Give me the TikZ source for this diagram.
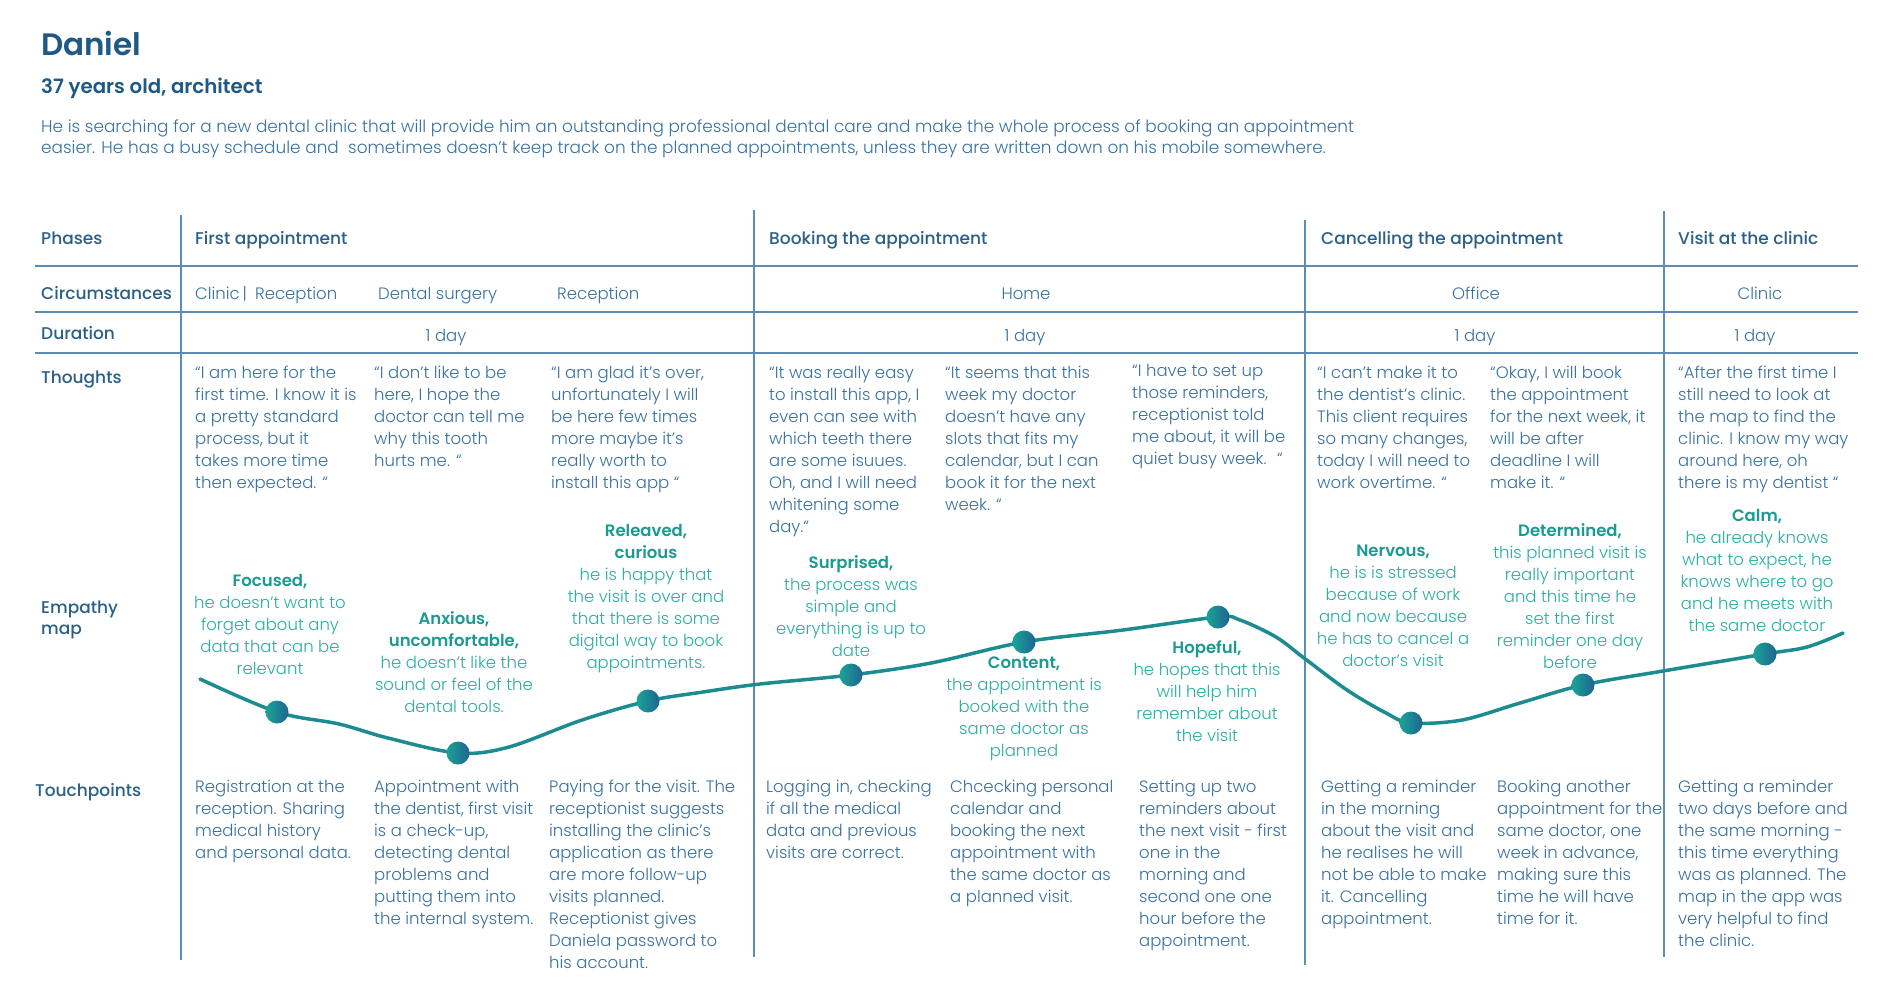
\documentclass[tikz,border=0pt]{standalone}
\usepackage{fontspec}
\setmainfont{Poppins}
\newfontfamily\plight{Poppins Light}
\newfontfamily\pmed{Poppins Medium}
\newfontfamily\psemi{Poppins SemiBold}
\definecolor{navy}{HTML}{1E5A84}
\definecolor{labelc}{HTML}{2A5F86}
\definecolor{bodyc}{HTML}{3872A0}
\definecolor{gridc}{HTML}{5A8CB5}
\definecolor{emotitle}{HTML}{1A9A90}
\definecolor{emobody}{HTML}{2AB0A3}
\definecolor{curvec}{HTML}{1C8C90}
\definecolor{dotl}{HTML}{1AA398}
\definecolor{dotr}{HTML}{1F6590}
% every text block is placed by the baseline of its first line:
% the node's top sits 14pt above that baseline and a strut fixes the first line height
\tikzset{
  firstline/.style={inner sep=0pt, yshift=14pt,
    execute at begin node={\rule{0pt}{14pt}}},
  rowlabel/.style={firstline, anchor=north west, align=left, text=labelc,
    font=\pmed\fontsize{17}{21}\selectfont},
  phase/.style={firstline, anchor=north west, text=labelc,
    font=\pmed\fontsize{17}{21}\selectfont},
  cell/.style={firstline, anchor=north, text=bodyc,
    font=\plight\fontsize{16.5}{22}\selectfont},
  celltext/.style={firstline, anchor=north west, align=left, text=bodyc,
    font=\plight\fontsize{16.5}{22}\selectfont},
  emo/.style={firstline, anchor=north, align=center, text=emobody,
    font=\plight\fontsize{16.5}{22}\selectfont},
  gridline/.style={draw=gridc, line width=1.3pt},
  mood/.style={circle, minimum size=23pt, inner sep=0pt, left color=dotl, right color=dotr, draw=none},
}
\newcommand{\emt}[1]{{\psemi\color{emotitle}#1}}
\begin{document}
\begin{tikzpicture}[x=1pt,y=-1pt]
\useasboundingbox[fill=white] (0,0) rectangle (1892,997);

% persona header
\node[anchor=base west, inner sep=0pt, text=navy, font=\psemi\fontsize{31}{36}\selectfont] (name) at (41,55) {Daniel};
\node[anchor=base west, inner sep=0pt, text=navy, font=\psemi\fontsize{19.8}{23}\selectfont] (role) at (41,93) {37 years old, architect};
\node[firstline, anchor=north west, align=left, text=bodyc, font=\plight\fontsize{16.9}{21.5}\selectfont] (about) at (41,133)
  {He is searching for a new dental clinic that will provide him an outstanding professional dental care and make the whole process of booking an appointment\\
   easier. He has a busy schedule and \ sometimes doesn’t keep track on the planned appointments, unless they are written down on his mobile somewhere.};

% table grid
\draw[gridline] (35,266) -- (1858,266);
\draw[gridline] (35,312) -- (1858,312);
\draw[gridline] (35,353) -- (1858,353);
\draw[gridline] (181,215) -- (181,960);
\draw[gridline] (754,210) -- (754,957);
\draw[gridline] (1305,220) -- (1305,965);
\draw[gridline] (1664,211) -- (1664,957);

% row labels
\node[rowlabel] (lphases) at (41,244) {Phases};
\node[rowlabel] (lcirc) at (41,299) {Circumstances};
\node[rowlabel] (ldur) at (41,339) {Duration};
\node[rowlabel] (lthought) at (41,383) {Thoughts};
\node[rowlabel] (lempathy) at (41,615) {Empathy\\map};
\node[rowlabel] (ltouch) at (35,796) {Touchpoints};

% phases
\node[phase] (p1) at (195,244) {First appointment};
\node[phase] (p2) at (769,244) {Booking the appointment};
\node[phase] (p3) at (1321,244) {Cancelling the appointment};
\node[phase] (p4) at (1678,244) {Visit at the clinic};

% circumstances
\node[celltext] (c1) at (195,299) {Clinic\,|\enspace Reception};
\node[celltext] (c2) at (378,299) {Dental surgery};
\node[celltext] (c3) at (557,299) {Reception};
\node[cell] (c4) at (1026,299) {Home};
\node[cell] (c5) at (1476,299) {Office};
\node[cell] (c6) at (1760,299) {Clinic};

% duration
\node[cell] (d1) at (446,341) {1 day};
\node[cell] (d2) at (1025,341) {1 day};
\node[cell] (d3) at (1475,341) {1 day};
\node[cell] (d4) at (1755,341) {1 day};

% thoughts
\node[celltext] (t1) at (195,380) {“I am here for the\\first time. I know it is\\a pretty standard\\process, but it\\takes more time\\then expected. “};
\node[celltext] (t2) at (374,380) {“I don’t like to be\\here, I hope the\\doctor can tell me\\why this tooth\\hurts me. “};
\node[celltext] (t3) at (551,380) {“I am glad it’s over,\\unfortunately I will\\be here few times\\more maybe it’s\\really worth to\\install this app “};
\node[celltext] (t4) at (769,380) {“It was really easy\\to install this app, I\\even can see with\\which teeth there\\are some isuues.\\Oh, and I will need\\whitening some\\day.“};
\node[celltext] (t5) at (945,380) {“It seems that this\\week my doctor\\doesn’t have any\\slots that fits my\\calendar, but I can\\book it for the next\\week. “};
\node[celltext] (t6) at (1132,378) {“I have to set up\\those reminders,\\receptionist told\\me about, it will be\\quiet busy week. \ “};
\node[celltext] (t7) at (1317,380) {“I can’t make it to\\the dentist’s clinic.\\This client requires\\so many changes,\\today I will need to\\work overtime. “};
\node[celltext] (t8) at (1490,380) {“Okay, I will book\\the appointment\\for the next week, it\\will be after\\deadline I will\\make it. “};
\node[celltext] (t9) at (1678,380) {“After the first time I\\still need to look at\\the map to find the\\clinic. I know my way\\around here, oh\\there is my dentist “};

% emotions
\node[emo] (m1) at (270,588) {\emt{Focused,}\\he doesn’t want to\\forget about any\\data that can be\\relevant};
\node[emo] (m2) at (454,625) {\emt{Anxious,}\\\emt{uncomfortable,}\\he doesn’t like the\\sound or feel of the\\dental tools.};
\node[emo] (m3) at (646,538) {\emt{Releaved,}\\\emt{curious}\\he is happy that\\the visit is over and\\that there is some\\digital way to book\\appointments.};
\node[emo] (m4) at (851,569) {\emt{Surprised,}\\the process was\\simple and\\everything is up to\\date};
\node[emo] (m5) at (1024,671) {\emt{Content,}\\the appointment is\\booked with the\\same doctor as\\planned};
\node[emo] (m6) at (1207,654) {\emt{Hopeful,}\\he hopes that this\\will help him\\remember about\\the visit};
\node[emo] (m7) at (1393,559) {\emt{Nervous,}\\he is is stressed\\because of work\\and now because\\he has to cancel a\\doctor’s visit};
\node[emo] (m8) at (1570,537) {\emt{Determined,}\\this planned visit is\\really important\\and this time he\\set the first\\reminder one day\\before};
\node[emo] (m9) at (1757,523) {\emt{Calm,}\\he already knows\\what to expect, he\\knows where to go\\and he meets with\\the same doctor};

% mood curve
\coordinate (cstart) at (200,679);
\coordinate (cend) at (1843,633);
\coordinate (e1) at (277,712);
\coordinate (e2) at (458,753);
\coordinate (e3) at (648,701);
\coordinate (e4) at (851,675);
\coordinate (e5) at (1024,642);
\coordinate (e6) at (1218,617);
\coordinate (e7) at (1411,723);
\coordinate (e8) at (1583,685);
\coordinate (e9) at (1765,654);
\draw[curvec, line width=3.5pt, line cap=round] plot[smooth, tension=0.55] coordinates {
  (cstart) (e1) (339,724) (388,738) (e2) (509,747) (582,720) (e3) (703,692) (760,684)
  (e4) (931,663) (e5) (1123,630) (e6) (1240,620) (1276,637) (1304,658) (1347,690) (1386,713)
  (e7) (1462,720) (1520,703) (e8) (1663,671) (e9) (1807,647) (cend)};
\foreach \i in {1,...,9} \node[mood] (dot\i) at (e\i) {};

% touchpoints
\node[celltext] (tp1) at (195,794) {Registration at the\\reception. Sharing\\medical history\\and personal data.};
\node[celltext] (tp2) at (374,794) {Appointment with\\the dentist, first visit\\is a check-up,\\detecting dental\\problems and\\putting them into\\the internal system.};
\node[celltext] (tp3) at (549,794) {Paying for the visit. The\\receptionist suggests\\installing the clinic’s\\application as there\\are more follow-up\\visits planned.\\Receptionist gives\\Daniela password to\\his account.};
\node[celltext] (tp4) at (766,794) {Logging in, checking\\if all the medical\\data and previous\\visits are correct.};
\node[celltext] (tp5) at (950,794) {Chcecking personal\\calendar and\\booking the next\\appointment with\\the same doctor as\\a planned visit.};
\node[celltext] (tp6) at (1139,794) {Setting up two\\reminders about\\the next visit - first\\one in the\\morning and\\second one one\\hour before the\\appointment.};
\node[celltext] (tp7) at (1321,794) {Getting a reminder\\in the morning\\about the visit and\\he realises he will\\not be able to make\\it. Cancelling\\appointment.};
\node[celltext] (tp8) at (1497,794) {Booking another\\appointment for the\\same doctor, one\\week in advance,\\making sure this\\time he will have\\time for it.};
\node[celltext] (tp9) at (1678,794) {Getting a reminder\\two days before and\\the same morning -\\this time everything\\was as planned. The\\map in the app was\\very helpful to find\\the clinic.};
\end{tikzpicture}
\end{document}
